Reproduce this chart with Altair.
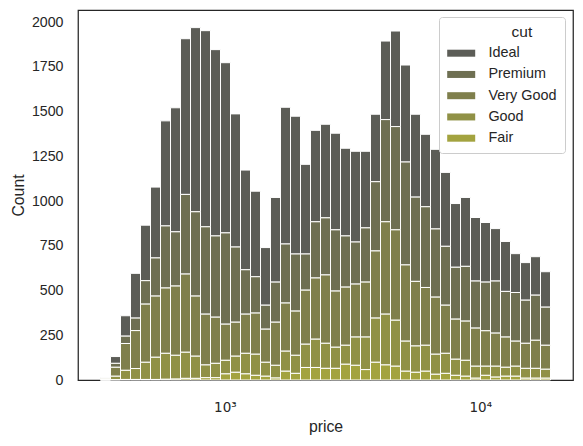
import altair as alt
import numpy as np
import pandas as pd

# Histogram settings (log-spaced bins over the price range)
price_min, price_max, n_bins = 326, 18823, 45

cuts = ["Ideal", "Premium", "Very Good", "Good", "Fair"]
colors = ["#5c5d57", "#6e6f52", "#7f7f4c", "#909146", "#a3a33f"]

# Counts per bin
ideal = [2, 38, 114, 250, 310, 396, 587, 693, 870, 1029, 1096, 1041, 951, 744, 557, 478, 322, 473, 764, 770,
         501, 511, 523, 540, 490, 507, 428, 377, 439, 534, 542, 463, 405, 445, 413, 356, 385, 355, 333, 293,
         279, 217, 210, 215, 198]
premium = [4, 22, 41, 70, 131, 213, 347, 303, 445, 471, 488, 454, 510, 420, 248, 203, 134, 224, 330, 319,
           202, 314, 319, 342, 286, 235, 303, 387, 571, 577, 575, 471, 451, 381, 329, 290, 306, 263, 272, 291,
           255, 272, 241, 252, 213]
very_good = [5, 50, 150, 212, 325, 342, 365, 387, 437, 336, 284, 258, 202, 190, 219, 230, 185, 241, 269, 247,
             302, 342, 382, 314, 325, 296, 307, 375, 516, 505, 426, 361, 323, 319, 269, 224, 219, 213, 198, 185,
             169, 140, 140, 157, 134]
good = [2, 19, 51, 61, 96, 124, 145, 133, 146, 124, 71, 80, 76, 90, 115, 118, 78, 71, 112, 101,
        130, 158, 140, 118, 106, 158, 182, 247, 284, 257, 168, 147, 145, 112, 112, 90, 89, 67, 51, 61,
        50, 56, 55, 55, 50]
fair = [0, 2, 3, 3, 3, 3, 4, 5, 9, 9, 13, 13, 34, 43, 34, 26, 21, 11, 49, 37,
        70, 70, 65, 65, 88, 82, 58, 99, 84, 77, 49, 43, 49, 32, 37, 26, 21, 10, 26, 16,
        21, 21, 10, 10, 10]

series = {"Ideal": ideal, "Premium": premium, "Very Good": very_good, "Good": good, "Fair": fair}
stack_order = {"Fair": 0, "Good": 1, "Very Good": 2, "Premium": 3, "Ideal": 4}

edges = np.logspace(np.log10(price_min), np.log10(price_max), n_bins + 1)
rows = []
for cut in cuts:
    for i, v in enumerate(series[cut]):
        rows.append({"cut": cut, "ord": stack_order[cut], "lo": float(edges[i]),
                     "hi": float(edges[i + 1]), "count": v})
df = pd.DataFrame(rows)

lmin, lmax = np.log10(price_min), np.log10(price_max)
pad = 0.05 * (lmax - lmin)
xdom = [float(10 ** (lmin - pad)), float(10 ** (lmax + pad))]
ymax = 1969 * 1.05

TXT = "#262626"
FONT = "Liberation Sans"
# zero-width space keeps the no-break indent, so the title sits centred over the legend
legend_title = "\u200b" + "\u00a0" * 15 + "cut"

chart = alt.Chart(df).transform_stack(
    stack="count", groupby=["lo"], as_=["y0", "y1"], sort=[alt.SortField("ord", order="ascending")]
).mark_bar(stroke="white", strokeWidth=1, opacity=1).encode(
    x=alt.X("lo:Q", title="price",
            scale=alt.Scale(type="log", domain=xdom, nice=False),
            axis=alt.Axis(values=[1000, 10000], labelExpr="datum.value == 1000 ? '10³' : '10⁴'",
                          grid=False, ticks=False, tickSize=0, domain=False,
                          labelFont="DejaVu Sans", labelFontSize=13.5, labelColor=TXT,
                          labelBaseline="alphabetic", labelPadding=31.5,
                          titleFont=FONT, titleFontSize=15.8, titleFontWeight="normal", titleColor=TXT,
                          titleBaseline="alphabetic", titleY=51.5)),
    x2="hi:Q",
    y=alt.Y("y0:Q", title="Count",
            scale=alt.Scale(domain=[0, ymax], nice=False),
            axis=alt.Axis(values=list(range(0, 2001, 250)), format="d", grid=False, ticks=False, tickSize=0,
                          domain=False, labelFont=FONT, labelFontSize=14.2, labelColor=TXT,
                          labelPadding=15,
                          titleFont=FONT, titleFontSize=15.8, titleFontWeight="normal", titleColor=TXT,
                          titleAngle=-90, titleBaseline="alphabetic", titleAlign="center",
                          titleX=-54.7, titleY=185)),
    y2="y1:Q",
    color=alt.Color("cut:N", scale=alt.Scale(domain=cuts, range=colors),
                    legend=alt.Legend(orient="none", legendX=361, legendY=7, title=legend_title,
                                      titleAnchor="start", titleAlign="left",
                                      titleFont=FONT, titleFontSize=15.5,
                                      titleFontWeight="normal", titleColor=TXT, titlePadding=5.5,
                                      labelFont=FONT, labelFontSize=14.4, labelColor=TXT,
                                      symbolType="M-2,-0.5L2,-0.5L2,0.5L-2,0.5Z", symbolSize=196,
                                      symbolStrokeWidth=0, symbolOpacity=1, symbolOffset=7,
                                      labelOffset=20, rowPadding=6.25, padding=8,
                                      strokeColor="#cccccc", fillColor="rgba(255,255,255,0.8)",
                                      cornerRadius=3)),
).properties(
    width=495, height=370,
    autosize=alt.AutoSizeParams(type="none"),
    padding={"left": 70, "top": 2, "right": 2, "bottom": 60},
).configure(font=FONT).configure_view(stroke="#262626", strokeWidth=1.25)

chart.save("out.html", embed_options={"renderer": "svg", "actions": False})
